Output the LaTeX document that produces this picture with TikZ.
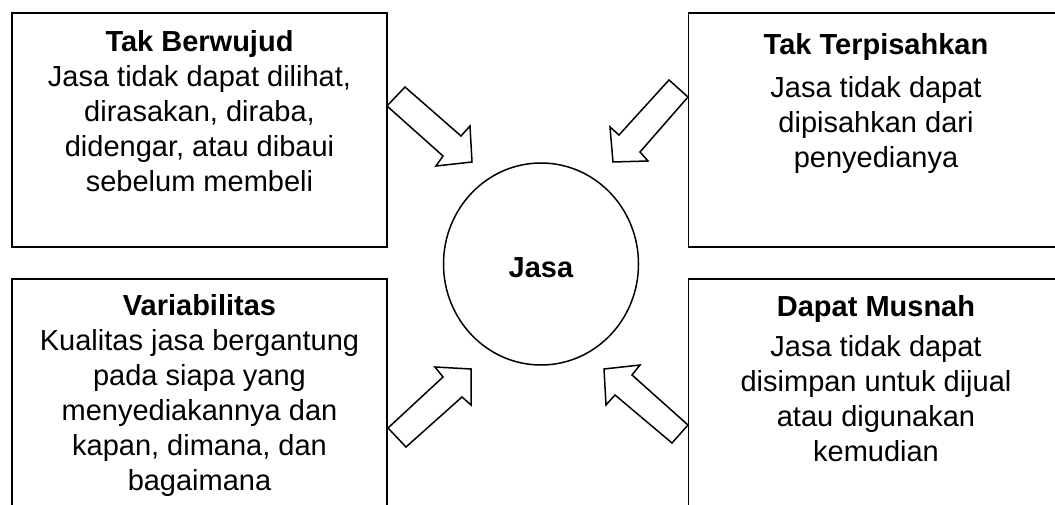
\documentclass[tikz,border=0pt]{standalone}
\usepackage{fontspec}
\setmainfont{Liberation Sans}
\usetikzlibrary{shapes.geometric}
\begin{document}
\begin{tikzpicture}[x=1pt,y=-1pt,
  frame/.style={draw=black,line width=1.5pt,minimum width=375pt,minimum height=234pt,inner sep=0pt},
  label/.style={align=center,inner sep=0pt,anchor=base,font=\fontsize{29}{35}\selectfont},
  blockarrow/.style={draw=black,line width=1.5pt,fill=white,line join=miter}]
\useasboundingbox (0,0) rectangle (1055,505);
\clip (0,0) rectangle (1055,505);
\fill[white] (0,0) rectangle (1055,505);
% boxes
\node[frame] (tl) at (199.5,130) {};
\node[frame] (tr) at (876,130) {};
\node[frame] (bl) at (199.5,396) {};
\node[frame] (br) at (876,396) {};
% centre
\node[ellipse,draw=black,line width=1.5pt,minimum width=195pt,minimum height=202pt,inner sep=0pt] (jasa) at (541,264) {};
\node[label] (jasat) at (541,277) {\textbf{Jasa}};
% texts (anchor base = last line's baseline)
\node[label] (tlt) at (199.5,192) {\textbf{Tak Berwujud}\\Jasa tidak dapat dilihat,\\dirasakan, diraba,\\didengar, atau dibaui\\sebelum membeli};
\node[label] (trt) at (876,168) {\textbf{Tak Terpisahkan}\\[8pt]Jasa tidak dapat\\dipisahkan dari\\penyedianya};
\node[label] (blt) at (199.5,490) {\textbf{Variabilitas}\\Kualitas jasa bergantung\\pada siapa yang\\menyediakannya dan\\kapan, dimana, dan\\bagaimana};
\node[label] (brt) at (876,461) {\textbf{Dapat Musnah}\\[5pt]Jasa tidak dapat\\disimpan untuk dijual\\atau digunakan\\kemudian};
% block arrows
\draw[blockarrow] (405,87) -- (461,136) -- (470,126) -- (472,162) -- (436,166) -- (443,156) -- (387,106) -- cycle;
\draw[blockarrow] (669,80) -- (619,135) -- (610,127) -- (613,162) -- (648,161) -- (640,152) -- (688,97) -- cycle;
\draw[blockarrow] (388,428) -- (443,377) -- (435,367) -- (471,369) -- (471,405) -- (462,397) -- (406,447) -- cycle;
\draw[blockarrow] (688,425) -- (632,375) -- (640,365) -- (604,369) -- (606,405) -- (615,395) -- (672,443) -- cycle;
\end{tikzpicture}
\end{document}
